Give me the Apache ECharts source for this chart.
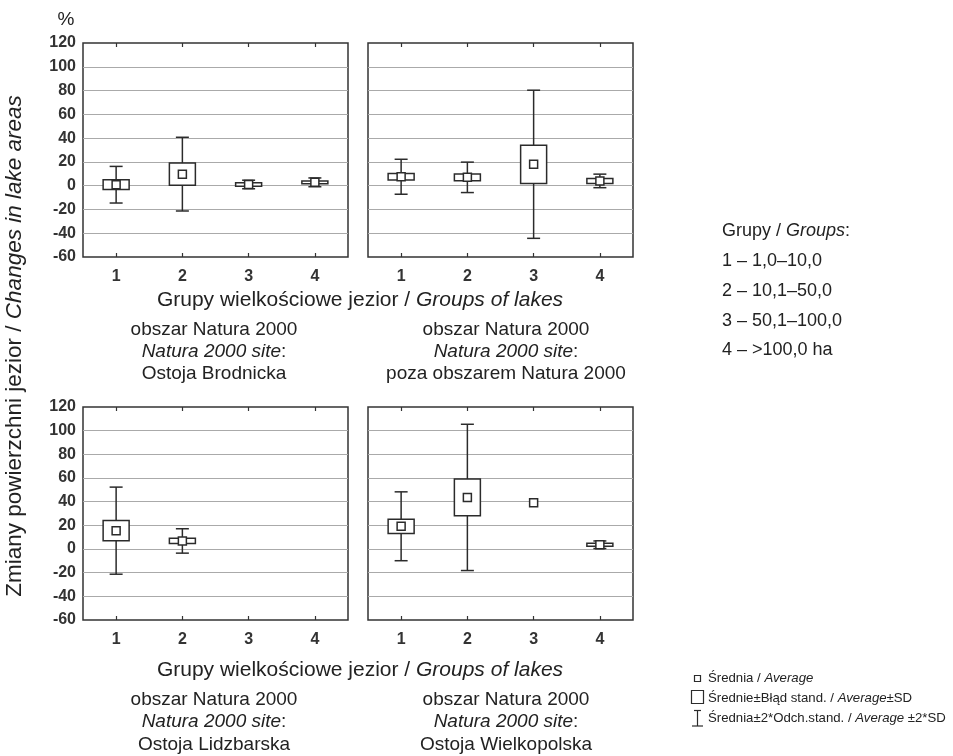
<!DOCTYPE html>
<html><head><meta charset="utf-8">
<script src="https://cdn.jsdelivr.net/npm/echarts@6/dist/echarts.min.js"></script>
<style>html,body{margin:0;padding:0;background:#fff}#c{width:953px;height:756px}</style>
</head><body><div id="c"></div>
<script>
// ---- data ----
const categories = ['1', '2', '3', '4'];
// Ostoja Brodnicka
const brodnickaMean = [0.8, 9.7, 1.0, 2.8];
const brodnickaSE = [4.1, 9.3, 1.5, 1.2];
const brodnicka2SD = [15.4, 31.0, 3.6, 3.7];
// poza obszarem Natura 2000
const pozaMean = [7.5, 7.0, 18.0, 4.0];
const pozaSE = [2.8, 2.8, 16.1, 2.1];
const poza2SD = [14.7, 12.8, 62.3, 5.7];
// Ostoja Lidzbarska
const lidzbarskaMean = [15.5, 6.8, null, null];
const lidzbarskaSE = [8.5, 2.2, null, null];
const lidzbarska2SD = [36.8, 10.3, null, null];
// Ostoja Wielkopolska
const wielkopolskaMean = [19.2, 43.6, 39.0, 3.6];
const wielkopolskaSE = [6.0, 15.5, 0, 1.2];
const wielkopolska2SD = [29.1, 61.8, 0, 3.2];
// y axis ticks
const yMin = -60, yMax = 120, yStep = 20;

const FONT = 'Liberation Sans, Arial, sans-serif';
const INK = '#2b2b2b';

const panels = [
  { mean: brodnickaMean, se: brodnickaSE, sd2: brodnicka2SD, left: 83, top: 43, h: 214, labels: true },
  { mean: pozaMean, se: pozaSE, sd2: poza2SD, left: 368, top: 43, h: 214, labels: false },
  { mean: lidzbarskaMean, se: lidzbarskaSE, sd2: lidzbarska2SD, left: 83, top: 407, h: 213, labels: true },
  { mean: wielkopolskaMean, se: wielkopolskaSE, sd2: wielkopolska2SD, left: 368, top: 407, h: 213, labels: false }
];

function renderBox(params, api) {
  const x = api.value(0), m = api.value(1), se = api.value(2), sd = api.value(3);
  const c = api.coord([x, m]);
  const ls = { stroke: INK, lineWidth: 1.5, fill: null };
  const children = [];
  if (sd > 0) {
    const t = api.coord([x, m + sd])[1], b = api.coord([x, m - sd])[1];
    children.push({ type: 'line', shape: { x1: c[0], y1: t, x2: c[0], y2: b }, style: ls });
    children.push({ type: 'line', shape: { x1: c[0] - 6.5, y1: t, x2: c[0] + 6.5, y2: t }, style: ls });
    children.push({ type: 'line', shape: { x1: c[0] - 6.5, y1: b, x2: c[0] + 6.5, y2: b }, style: ls });
  }
  if (se > 0) {
    const t = api.coord([x, m + se])[1], b = api.coord([x, m - se])[1];
    children.push({ type: 'rect', shape: { x: c[0] - 13, y: t, width: 26, height: b - t }, style: { stroke: INK, lineWidth: 1.5, fill: '#fff' } });
  }
  children.push({ type: 'rect', shape: { x: c[0] - 4, y: c[1] - 4, width: 8, height: 8 }, style: { stroke: INK, lineWidth: 1.5, fill: '#fff' } });
  return { type: 'group', children };
}

const grid = [], xAxis = [], yAxis = [], series = [];
panels.forEach((p, i) => {
  grid.push({ left: p.left, top: p.top, width: 265, height: p.h, show: true, borderColor: '#333', borderWidth: 1.5, backgroundColor: '#fff' });
  const tick = { show: true, inside: true, length: 4, alignWithLabel: true, lineStyle: { color: '#333', width: 1.2 } };
  xAxis.push({ gridIndex: i, type: 'category', data: categories, position: 'bottom', axisLine: { show: false, onZero: false }, axisTick: tick,
    axisLabel: { color: '#333', fontFamily: FONT, fontWeight: 'bold', fontSize: 16, margin: 12 }, splitLine: { show: false } });
  xAxis.push({ gridIndex: i, type: 'category', data: categories, position: 'top', axisLine: { show: false, onZero: false }, axisTick: tick,
    axisLabel: { show: false }, splitLine: { show: false } });
  yAxis.push({ gridIndex: i, type: 'value', min: yMin, max: yMax, interval: yStep, axisLine: { show: false }, axisTick: { show: false },
    axisLabel: { show: p.labels, color: '#333', fontFamily: FONT, fontWeight: 'bold', fontSize: 16, margin: 7 },
    splitLine: { show: true, showMinLine: false, showMaxLine: false, lineStyle: { color: '#aaa', width: 1.2 } } });
  const data = [];
  p.mean.forEach((m, k) => { if (m !== null) data.push([k, m, p.se[k], p.sd2[k]]); });
  series.push({ type: 'custom', xAxisIndex: i * 2, yAxisIndex: i, renderItem: renderBox, data, silent: true, clip: false });
});

const base = { fontFamily: FONT, fill: '#222' };
function txt(x, y, text, size, align, extra) {
  return Object.assign({
    type: 'text', x, y,
    style: Object.assign({}, base, {
      text, fontSize: size, align: align || 'center', verticalAlign: 'middle',
      rich: {
        n: { fontFamily: FONT, fontSize: size, fill: '#222' },
        i: { fontFamily: FONT, fontSize: size, fontStyle: 'italic', fill: '#222' }
      }
    })
  }, extra || {});
}

const graphic = [
  txt(66, 20, '%', 19, 'center'),
  txt(15, 346, '{n|Zmiany powierzchni jezior / }{i|Changes in lake areas}', 22.5, 'center', { rotation: Math.PI / 2 }),
  txt(360, 300, '{n|Grupy wielkościowe jezior / }{i|Groups of lakes}', 21),
  txt(360, 670, '{n|Grupy wielkościowe jezior / }{i|Groups of lakes}', 21),
  txt(214, 330, 'obszar Natura 2000', 19),
  txt(214, 352, '{i|Natura 2000 site}{n|:}', 19),
  txt(214, 374, 'Ostoja Brodnicka', 19),
  txt(506, 330, 'obszar Natura 2000', 19),
  txt(506, 352, '{i|Natura 2000 site}{n|:}', 19),
  txt(506, 374, 'poza obszarem Natura 2000', 19),
  txt(214, 700, 'obszar Natura 2000', 19),
  txt(214, 722, '{i|Natura 2000 site}{n|:}', 19),
  txt(214, 745, 'Ostoja Lidzbarska', 19),
  txt(506, 700, 'obszar Natura 2000', 19),
  txt(506, 722, '{i|Natura 2000 site}{n|:}', 19),
  txt(506, 745, 'Ostoja Wielkopolska', 19),
  txt(722, 231, '{n|Grupy / }{i|Groups}{n|:}', 18, 'left'),
  txt(722, 261, '1 – 1,0–10,0', 18, 'left'),
  txt(722, 291, '2 – 10,1–50,0', 18, 'left'),
  txt(722, 321, '3 – 50,1–100,0', 18, 'left'),
  txt(722, 350, '4 – >100,0 ha', 18, 'left'),
  // bottom legend
  { type: 'rect', shape: { x: 694.5, y: 675.5, width: 6, height: 6 }, style: { stroke: INK, lineWidth: 1.2, fill: '#fff' } },
  { type: 'rect', shape: { x: 691.5, y: 690.5, width: 12, height: 13 }, style: { stroke: INK, lineWidth: 1.2, fill: '#fff' } },
  { type: 'line', shape: { x1: 697.5, y1: 710, x2: 697.5, y2: 726 }, style: { stroke: INK, lineWidth: 1.2 } },
  { type: 'line', shape: { x1: 694, y1: 710.5, x2: 701, y2: 710.5 }, style: { stroke: INK, lineWidth: 1.2 } },
  { type: 'line', shape: { x1: 692, y1: 726, x2: 703, y2: 726 }, style: { stroke: INK, lineWidth: 1.2 } },
  txt(708, 678, '{n|Średnia / }{i|Average}', 13.2, 'left'),
  txt(708, 698, '{n|Średnie±Błąd stand. / }{i|Average}{n|±SD}', 13.2, 'left'),
  txt(708, 718, '{n|Średnia±2*Odch.stand. / }{i|Average}{n| ±2*SD}', 13.2, 'left')
];

const chart = echarts.init(document.getElementById('c'), null, { renderer: 'canvas' });
chart.setOption({ backgroundColor: '#fff', animation: false, grid, xAxis, yAxis, series, graphic });
</script></body></html>
